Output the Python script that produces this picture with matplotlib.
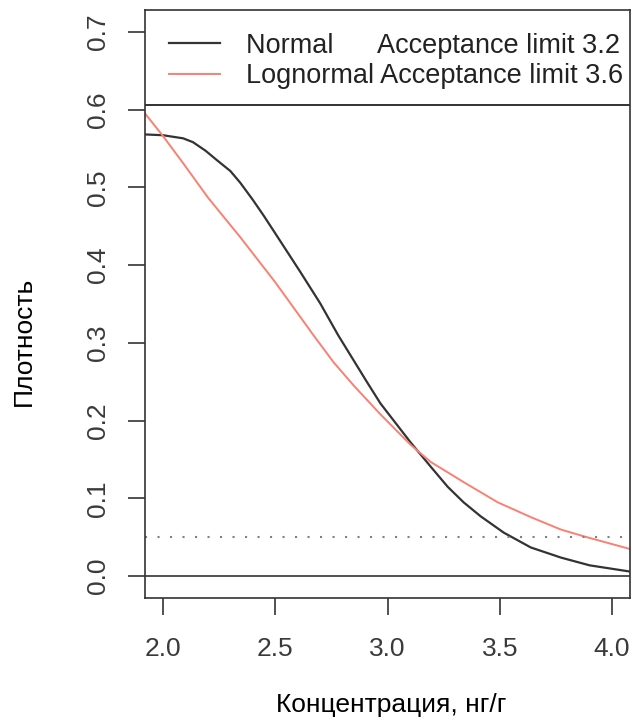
import numpy as np
import matplotlib
matplotlib.use('Agg')
import matplotlib.pyplot as plt
from matplotlib.lines import Line2D

plt.rcParams['font.family'] = ['Liberation Sans', 'DejaVu Sans']

# Кривые плотности
x_normal = [1.92, 2.00, 2.09, 2.134, 2.19, 2.24, 2.30, 2.344, 2.40, 2.45, 2.52,
            2.61, 2.70, 2.78, 2.91, 2.969, 3.103, 3.192, 3.268, 3.339, 3.415,
            3.518, 3.638, 3.772, 3.90, 4.08]
y_normal = [0.568, 0.567, 0.563, 0.558, 0.547, 0.535, 0.521, 0.506, 0.484, 0.463, 0.432,
            0.392, 0.351, 0.310, 0.249, 0.222, 0.172, 0.141, 0.115, 0.095, 0.077,
            0.056, 0.037, 0.024, 0.014, 0.006]

x_lognormal = [1.92, 2.00, 2.09, 2.20, 2.344, 2.50, 2.61, 2.67, 2.76, 2.85, 2.969,
               3.103, 3.192, 3.339, 3.491, 3.638, 3.772, 3.89, 4.08]
y_lognormal = [0.595, 0.566, 0.531, 0.487, 0.436, 0.378, 0.334, 0.310, 0.275, 0.245, 0.208,
               0.169, 0.147, 0.121, 0.095, 0.076, 0.060, 0.050, 0.035]

labels = ['Normal      Acceptance limit 3.2', 'Lognormal Acceptance limit 3.6']
threshold = 0.05
legend_bottom = 0.606

x_ticks = [2.0, 2.5, 3.0, 3.5, 4.0]
y_ticks = [0.0, 0.1, 0.2, 0.3, 0.4, 0.5, 0.6, 0.7]

black = '#333333'
salmon = '#FA8072'
fs = 19

fig = plt.figure(figsize=(6.32, 7.2), dpi=100)
ax = fig.add_axes([145 / 632, 1 - 598 / 720, 485 / 632, 588 / 720])

ax.plot(x_normal, y_normal, color=black, lw=1.6)
ax.plot(x_lognormal, y_lognormal, color=salmon, lw=1.4)
ax.axhline(threshold, color='#808080', lw=1.5, linestyle=(0, (1, 5)))
ax.axhline(0.0, color=black, lw=1.2)
ax.axhline(legend_bottom, color=black, lw=1.4)

ax.set_xlim(1.92, 4.08)
ax.set_ylim(-0.028, 0.728)
ax.set_xticks(x_ticks)
ax.set_xticklabels(['%.1f' % v for v in x_ticks])
ax.set_yticks(y_ticks)
ax.set_yticklabels(['%.1f' % v for v in y_ticks], rotation=90, va='center')

ax.tick_params(axis='both', labelsize=fs, labelcolor='#3a3a3a', color=black,
               length=12, width=1.2)
ax.tick_params(axis='x', pad=16)
ax.tick_params(axis='y', pad=13)
for s in ax.spines.values():
    s.set_color(black)
    s.set_linewidth(1.2)

ax.set_xlabel('Концентрация, нг/г', fontsize=fs, color='black')
ax.xaxis.set_label_coords(0.507, -0.194)
ax.xaxis.label.set_va('baseline')
ax.set_ylabel('Плотность', fontsize=fs, color='black')
ax.yaxis.set_label_coords(-0.249, 0.437)
ax.yaxis.label.set_va('center')

handles = [Line2D([], [], color=black, lw=1.6), Line2D([], [], color=salmon, lw=1.4)]
ax.legend(handles, labels, loc='upper left', bbox_to_anchor=(0.0495, 0.961),
          frameon=False, fontsize=19.5, borderpad=0, borderaxespad=0,
          handlelength=1.9, handletextpad=0.93, labelspacing=0.15,
          labelcolor='#222222')

fig.savefig('out.png', dpi=100)
